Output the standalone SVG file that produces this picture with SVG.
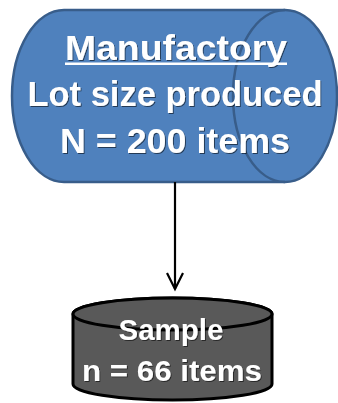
<svg xmlns="http://www.w3.org/2000/svg" width="338" height="403" viewBox="0 0 338 403">
  <defs>
    <filter id="txtShadow" x="-10%" y="-20%" width="120%" height="140%">
      <feDropShadow dx="1" dy="1" stdDeviation="0.6" flood-color="#000" flood-opacity="0.55"/>
    </filter>
  </defs>
  <style>
    .label { font-family: "Liberation Sans", Arial, sans-serif; font-weight: bold; fill: #ffffff; text-anchor: middle; filter: url(#txtShadow); }
    .big { font-size: 35px; }
    .small { font-size: 29px; }
    .conn { stroke: #000; stroke-width: 2.2; fill: none; }
  </style>
  <rect width="338" height="403" fill="#ffffff"/>

  <!-- Horizontal cylinder: the factory lot -->
  <g id="manufactory">
    <path d="M64,10 L285,10 A52,86 0 0 1 285,182 L64,182 A52,86 0 0 1 64,10 Z" fill="#4f81bd" stroke="#385d8a" stroke-width="2.5"/>
    <path d="M285,10 A52,86 0 0 0 285,182" fill="none" stroke="#385d8a" stroke-width="2.5"/>
    <text class="label big" x="176" y="60" textLength="222" lengthAdjust="spacingAndGlyphs">Manufactory</text>
    <rect x="65" y="62.5" width="222" height="2.5" fill="#fff"/>
    <text class="label big" x="175" y="106" textLength="295" lengthAdjust="spacingAndGlyphs">Lot size produced</text>
    <text class="label big" x="175" y="153" textLength="230" lengthAdjust="spacingAndGlyphs">N = 200 items</text>
  </g>

  <!-- Connector -->
  <g id="connectors">
    <line class="conn" x1="175" y1="182" x2="175" y2="289"/>
    <polyline class="conn" points="167,273 175,289 183,273"/>
  </g>

  <!-- Upright cylinder: the sample -->
  <g id="sample">
    <path d="M73,314 L73,384 A99.5,16 0 0 0 272,384 L272,314 A99.5,16 0 0 0 73,314 Z" fill="#595959" stroke="#000" stroke-width="3"/>
    <ellipse cx="172.5" cy="314" rx="99.5" ry="16" fill="#595959" stroke="#000" stroke-width="3"/>
    <text class="label small" x="171" y="340" textLength="105" lengthAdjust="spacingAndGlyphs">Sample</text>
    <text class="label small" x="172" y="381" textLength="180" lengthAdjust="spacingAndGlyphs">n = 66 items</text>
  </g>
</svg>
